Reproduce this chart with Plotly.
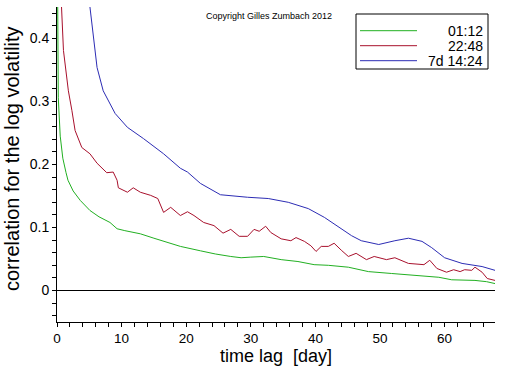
import plotly.graph_objects as go

# ---- data ----
series_names = ["01:12", "22:48", "7d 14:24"]
series_colors = ["#22b022", "#a8102c", "#2c2cb4"]

green_t = [0.02, 0.1, 0.2, 0.5, 0.9, 1.4, 1.7, 2.5, 3.6, 5.1, 6.5, 8.2, 9.3, 10.5, 12.9,
           15.0, 17.1, 19.1, 22.2, 24.5, 26.9, 28.5, 30.0, 32.0, 34.7, 37.3, 39.8, 42.0,
           45.1, 48.2, 51.8, 55.4, 59.1, 61.1, 64.7, 66.5, 67.8]
green_v = [0.60, 0.40, 0.306, 0.245, 0.21, 0.187, 0.175, 0.158, 0.143, 0.127, 0.117,
           0.108, 0.098, 0.095, 0.090, 0.083, 0.076, 0.070, 0.063, 0.058, 0.054, 0.052,
           0.053, 0.054, 0.049, 0.046, 0.041, 0.040, 0.037, 0.030, 0.027, 0.024, 0.021,
           0.017, 0.016, 0.014, 0.011]

red_t = [0.3, 0.7, 1.0, 1.76, 2.3, 2.8, 3.84, 5.1, 6.2, 7.7, 8.7, 9.3, 9.5, 10.9, 11.8,
         12.9, 14.5, 15.6, 16.5, 17.6, 19.1, 20.2, 21.2, 22.7, 24.3, 25.7, 26.9, 28.2,
         29.5, 30.5, 31.3, 32.3, 33.1, 34.7, 36.2, 37.0, 38.3, 39.3, 40.1, 40.9, 42.0,
         42.9, 44.0, 45.1, 46.3, 47.9, 49.1, 51.0, 52.3, 54.4, 56.8, 57.7, 58.8, 60.3,
         61.4, 62.4, 63.1, 64.2, 64.7, 65.8, 66.6, 67.8]
red_v = [0.60, 0.45, 0.381, 0.317, 0.286, 0.254, 0.227, 0.217, 0.202, 0.187, 0.188,
         0.175, 0.163, 0.156, 0.163, 0.156, 0.151, 0.146, 0.124, 0.132, 0.119, 0.125,
         0.119, 0.108, 0.103, 0.091, 0.097, 0.086, 0.086, 0.097, 0.094, 0.102, 0.092,
         0.082, 0.079, 0.084, 0.078, 0.071, 0.062, 0.070, 0.070, 0.075, 0.064, 0.054,
         0.059, 0.049, 0.054, 0.049, 0.052, 0.043, 0.041, 0.048, 0.035, 0.029, 0.033,
         0.030, 0.033, 0.032, 0.037, 0.029, 0.019, 0.016]

blue_t = [4.5, 5.1, 6.2, 7.15, 9.0, 10.9, 13.4, 16.5, 19.1, 20.2, 22.2, 25.3, 29.5,
          32.7, 35.8, 38.9, 41.4, 43.5, 45.6, 47.1, 49.8, 52.3, 54.4, 56.5, 58.0, 60.0,
          62.7, 65.8, 67.8]
blue_v = [0.55, 0.45, 0.354, 0.317, 0.281, 0.259, 0.241, 0.217, 0.194, 0.188, 0.170,
          0.152, 0.148, 0.146, 0.140, 0.130, 0.116, 0.102, 0.087, 0.079, 0.073, 0.079,
          0.083, 0.078, 0.068, 0.052, 0.043, 0.038, 0.032]

x_tickvals = [0, 10, 20, 30, 40, 50, 60]
y_tickvals = [0, 0.1, 0.2, 0.3, 0.4]
x_title = "time lag\u00a0 [day]"
y_title = "correlation for the log volatility"

FONT = "Liberation Sans, Arial, sans-serif"

# plot area in pixels
L, R, T, B = 57, 495, 7, 322
W, H = R - L, B - T


def px(x):
    return (x - L) / W


def py(y):
    return (B - y) / H


fig = go.Figure()
for t, v, name, col in zip([green_t, red_t, blue_t], [green_v, red_v, blue_v],
                           series_names, series_colors):
    fig.add_trace(go.Scatter(x=t, y=v, mode="lines", name=name,
                             line=dict(color=col, width=1), showlegend=False))

# custom legend box (right-aligned labels, as in the reference)
shapes = [dict(type="rect", xref="paper", yref="paper",
               x0=px(356), x1=px(488), y0=py(69), y1=py(14),
               line=dict(color="black", width=1), fillcolor="white", layer="above")]
annotations = []
for i, (name, col) in enumerate(zip(series_names, series_colors)):
    yp = py(30.7 + 15 * i)
    shapes.append(dict(type="line", xref="paper", yref="paper",
                       x0=px(360), x1=px(417), y0=yp, y1=yp,
                       line=dict(color=col, width=1), layer="above"))
    annotations.append(dict(xref="paper", yref="paper", x=px(485), y=yp,
                            text=name, showarrow=False, xanchor="right", yanchor="middle",
                            font=dict(family=FONT, size=14, color="black")))

annotations.append(dict(xref="paper", yref="paper", x=px(204), y=py(16),
                        text="Copyright Gilles Zumbach 2012", showarrow=False,
                        xanchor="left", yanchor="middle",
                        font=dict(family=FONT, size=9, color="black")))
annotations.append(dict(xref="paper", yref="paper", x=px(276), y=py(355.5),
                        text=x_title, showarrow=False, xanchor="center", yanchor="middle",
                        font=dict(family=FONT, size=18, color="black")))
annotations.append(dict(xref="paper", yref="paper", x=px(12), y=py(159),
                        text=y_title, showarrow=False, xanchor="center", yanchor="middle",
                        textangle=-90,
                        font=dict(family=FONT, size=20, color="black")))

fig.update_layout(
    width=512, height=366,
    margin=dict(l=L, r=512 - R, t=T, b=366 - B, autoexpand=False),
    paper_bgcolor="white", plot_bgcolor="white",
    font=dict(family=FONT, size=14, color="black"),
    shapes=shapes, annotations=annotations,
    showlegend=False,
)
fig.update_xaxes(
    range=[0, 67.8], tickvals=x_tickvals, ticks="outside", ticklen=4, tickcolor="black",
    showline=True, linecolor="black", linewidth=1, showgrid=False, zeroline=False,
    minor=dict(dtick=2, ticks="outside", ticklen=4, tickcolor="black", showgrid=False),
    tickfont=dict(size=13.5), automargin=False,
)
fig.update_yaxes(
    range=[-0.05, 0.45], tickvals=y_tickvals, ticktext=["0", "0.1", "0.2", "0.3", "0.4"],
    ticks="outside", ticklen=4, tickcolor="black",
    showline=True, linecolor="black", linewidth=1, showgrid=False,
    zeroline=True, zerolinecolor="black", zerolinewidth=1,
    minor=dict(dtick=0.02, tick0=0, ticks="outside", ticklen=4, tickcolor="black", showgrid=False),
    tickfont=dict(size=14), automargin=False,
)

fig.write_html("out.html", config={"displayModeBar": False},
               post_script="document.body.style.margin='0';document.body.style.overflow='hidden';")
